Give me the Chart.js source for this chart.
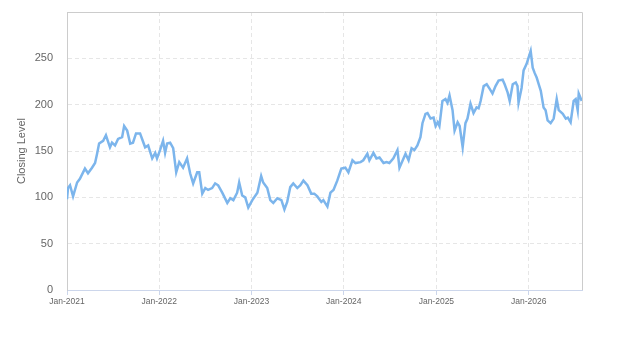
<!DOCTYPE html>
<html>
<head>
<meta charset="utf-8">
<script src="https://cdn.jsdelivr.net/npm/chart.js@4.4.0/dist/chart.umd.min.js"></script>
<style>
    body { margin: 0; background: #fff; }
    canvas { display: block; }
</style>
</head>
<body>
<canvas id="closingChart" width="623" height="350"></canvas>
<script>
// tick labels on the time axis and their day offsets from 2021-01-01
const tickLabels = ['Jan-2021', 'Jan-2022', 'Jan-2023', 'Jan-2024', 'Jan-2025', 'Jan-2026'];
const tickDays = [0, 365, 730, 1095, 1461, 1826];
const lastDay = 2037;

// closing level (days since 2021-01-01)
const dayOffsets = [
    0, 4, 12, 24, 40, 51, 71, 83, 99, 111, 119, 127, 143, 154, 170, 178, 190, 202, 218, 226,
    238, 250, 261, 273, 289, 297, 309, 321, 337, 349, 356, 368, 380, 388, 396, 408, 420, 432, 444, 459,
    475, 487, 499, 515, 523, 535, 547, 558, 574, 586, 598, 614, 634, 646, 658, 673, 681, 693, 705, 717,
    733, 753, 768, 776, 792, 804, 816, 832, 848, 860, 871, 883, 895, 911, 923, 935, 951, 966, 978, 990,
    1006, 1014, 1030, 1042, 1054, 1069, 1085, 1101, 1113, 1129, 1141, 1161, 1172, 1188, 1196, 1212, 1224, 1236, 1252, 1264,
    1275, 1291, 1307, 1315, 1331, 1339, 1351, 1363, 1374, 1386, 1398, 1406, 1418, 1426, 1438, 1450, 1458, 1466, 1473, 1485,
    1497, 1505, 1513, 1525, 1533, 1545, 1553, 1565, 1576, 1584, 1596, 1608, 1620, 1628, 1636, 1648, 1660, 1672, 1683, 1695,
    1707, 1723, 1731, 1743, 1751, 1763, 1775, 1782, 1786, 1798, 1806, 1818, 1826, 1834, 1842, 1850, 1858, 1866, 1874, 1885,
    1893, 1901, 1913, 1925, 1937, 1945, 1961, 1973, 1981, 1992, 2004, 2012, 2020, 2024, 2036
];
const closes = [
    98, 110, 113, 101, 116, 120, 131, 126, 132, 137, 147, 158, 161, 167, 154, 159, 156, 163, 165, 177,
    172, 158, 159, 169, 169, 163, 154, 156, 142, 148, 142, 151, 161, 148, 158, 159, 153, 127, 138, 132,
    142, 126, 115, 127, 127, 104, 110, 108, 110, 115, 113, 105, 94, 99, 97, 105, 116, 102, 100, 89,
    97, 105, 123, 116, 110, 97, 94, 99, 97, 87, 95, 111, 115, 110, 113, 118, 113, 104, 104, 101,
    95, 97, 90, 105, 108, 118, 131, 132, 127, 140, 137, 138, 140, 147, 140, 148, 142, 143, 137, 138,
    137, 142, 151, 132, 142, 147, 140, 153, 151, 156, 165, 180, 190, 191, 185, 186, 177, 181, 177, 204,
    206, 202, 210, 194, 172, 181, 177, 154, 180, 185, 201, 191, 197, 196, 204, 220, 222, 217, 212, 220,
    226, 227, 222, 213, 204, 222, 224, 220, 202, 218, 237, 244, 251, 258, 240, 234, 229, 222, 215, 197,
    194, 183, 180, 185, 206, 194, 190, 185, 186, 181, 204, 206, 194, 212, 204
];

const gridColor = '#e6e6e6';
const textColor = '#666666';

// top and right edges of the plot frame
const framePlugin = {
    id: 'frame',
    beforeDatasetsDraw(chart) {
        const { ctx, chartArea: a } = chart;
        ctx.save();
        ctx.strokeStyle = '#cccccc';
        ctx.lineWidth = 1;
        ctx.beginPath();
        ctx.moveTo(a.left, a.top + 0.5);
        ctx.lineTo(a.right + 0.5, a.top + 0.5);
        ctx.lineTo(a.right + 0.5, a.bottom);
        ctx.stroke();
        ctx.restore();
    }
};

new Chart(document.getElementById('closingChart'), {
    type: 'line',
    data: {
        datasets: [{
            label: 'Closing Level',
            data: dayOffsets.map((d, i) => ({ x: d, y: closes[i] })),
            borderColor: '#7cb5ec',
            borderWidth: 2.5,
            pointRadius: 0,
            tension: 0,
            fill: false
        }]
    },
    options: {
        responsive: false,
        animation: false,
        layout: { padding: { left: 0, top: 12, right: 41, bottom: 35 } },
        plugins: {
            legend: { display: false },
            tooltip: { enabled: false }
        },
        scales: {
            x: {
                type: 'linear',
                min: 0,
                max: lastDay,
                afterBuildTicks: axis => {
                    axis.ticks = tickDays.map(v => ({ value: v }));
                },
                afterFit: axis => {
                    axis.height = 25;
                    axis.paddingLeft = 0;
                    axis.paddingRight = 0;
                },
                ticks: {
                    autoSkip: false,
                    maxRotation: 0,
                    padding: 2,
                    color: textColor,
                    font: { family: 'Liberation Sans, Arial, sans-serif', size: 8.5 },
                    callback: value => tickLabels[tickDays.indexOf(value)] || ''
                },
                grid: {
                    color: gridColor,
                    tickColor: '#ccd6eb',
                    tickLength: 5,
                    tickBorderDash: [],
                    drawOnChartArea: true
                },
                border: { color: '#ccd6eb', dash: [4, 3] }
            },
            y: {
                min: 0,
                max: 300,
                afterFit: axis => {
                    axis.width = 67;
                    axis.paddingTop = 0;
                    axis.paddingBottom = 0;
                },
                ticks: {
                    stepSize: 50,
                    padding: 14,
                    color: textColor,
                    font: { family: 'Liberation Sans, Arial, sans-serif', size: 11 },
                    callback: value => value === 300 ? '' : value
                },
                grid: {
                    color: ctx => ctx.tick.value === 0 || ctx.tick.value === 300 ? 'rgba(0,0,0,0)' : gridColor,
                    drawTicks: false
                },
                border: { color: '#cccccc', dash: [4, 3] },
                title: {
                    display: true,
                    text: 'Closing Level',
                    color: textColor,
                    font: { family: 'Liberation Sans, Arial, sans-serif', size: 11 },
                    padding: { top: 15, bottom: 0 }
                }
            }
        }
    },
    plugins: [framePlugin]
});
</script>
</body>
</html>
